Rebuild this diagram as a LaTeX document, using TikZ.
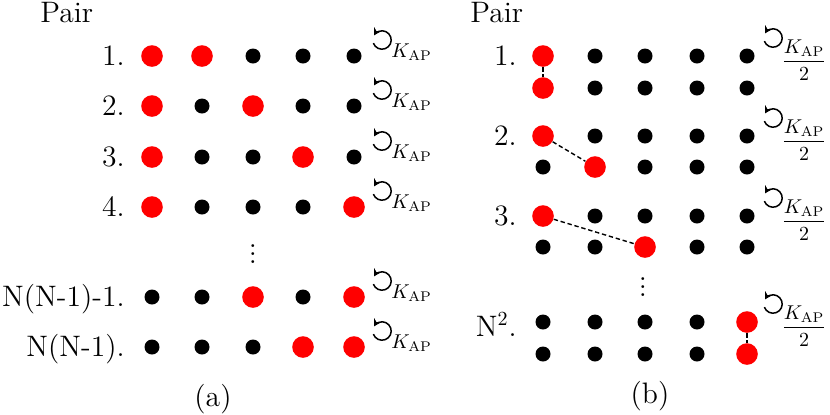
\documentclass[tikz,border=0pt]{standalone}
\usetikzlibrary{arrows.meta}
\begin{document}
\begin{tikzpicture}[x=0.5pt,y=-0.5pt,
  reddot/.style={circle,fill=red,inner sep=0pt,minimum size=10.8pt},
  blackdot/.style={circle,fill=black,inner sep=0pt,minimum size=7.5pt},
  lbl/.style={font=\fontsize{14.8}{17}\selectfont,inner sep=0pt},
  klbl/.style={font=\fontsize{10}{12}\selectfont,inner sep=0pt},
  rot/.style={line width=0.75pt,-{Stealth[length=3.6pt,width=4pt]}},
  pairline/.style={dash pattern=on 2.2pt off 1.4pt,line width=0.7pt}]
\useasboundingbox (0,0) rectangle (830,414);
% ---------- panel (a) ----------
\node[lbl,anchor=base west] (pairA) at (40,22) {Pair};
\foreach \r/\y/\lab/\ra/\rb in {1/56/1./1/2, 2/106/2./1/3, 3/157/3./1/4, 4/207/4./1/5, 5/297/{N(N-1)-1.}/3/5, 6/347/{N(N-1).}/4/5}{
  \node[lbl,anchor=base east] (la-\r) at (125,\y+9) {\lab};
  \foreach \c/\x in {1/152,2/202,3/253,4/303,5/354}{
    \ifnum\c=\ra \def\st{reddot}\else\ifnum\c=\rb \def\st{reddot}\else\def\st{blackdot}\fi\fi
    \node[\st] (a-\r-\c) at (\x,\y) {};
  }
  \coordinate (ca-\r) at (382,\y-16);
  \draw[rot] (ca-\r) ++(-160:4.6pt) arc[start angle=-160,end angle=150,radius=4.6pt];
  \node[klbl,anchor=base west] (ka-\r) at (391,\y+1) {$K_{\mathrm{AP}}$};
}
\node[lbl,anchor=base] (vda) at (253,263) {$\vdots$};
\node[lbl] (capa) at (213,399) {(a)};
% ---------- panel (b) ----------
\node[lbl,anchor=base west] (pairB) at (470,22) {Pair};
\foreach \p/\yt/\yb/\lab/\ly/\ca/\cb in {1/56/88/1./65/1/1, 2/136/167/2./145/1/2, 3/216/247/3./225/1/3, 4/322/354/{N$^2$.}/336/5/5}{
  \node[lbl,anchor=base east] (lb-\p) at (517,\ly) {\lab};
  \foreach \c/\x in {1/543,2/595,3/645,4/697,5/747}{
    \ifnum\c=\ca \def\st{reddot}\else\def\st{blackdot}\fi
    \node[\st] (b-\p-t-\c) at (\x,\yt) {};
    \ifnum\c=\cb \def\st{reddot}\else\def\st{blackdot}\fi
    \node[\st] (b-\p-b-\c) at (\x,\yb) {};
  }
  \draw[pairline] (b-\p-t-\ca) -- (b-\p-b-\cb);
  \coordinate (cb-\p) at (773,\yt-18);
  \draw[rot] (cb-\p) ++(-160:4.6pt) arc[start angle=-160,end angle=150,radius=4.6pt];
  \node[klbl,anchor=west] (kb-\p) at (781,\yt+4) {$\displaystyle\frac{K_{\mathrm{AP}}}{2}$};
}
\node[lbl,anchor=base] (vdb) at (643,296) {$\vdots$};
\node[lbl] (capb) at (650,396) {(b)};
\end{tikzpicture}
\end{document}
